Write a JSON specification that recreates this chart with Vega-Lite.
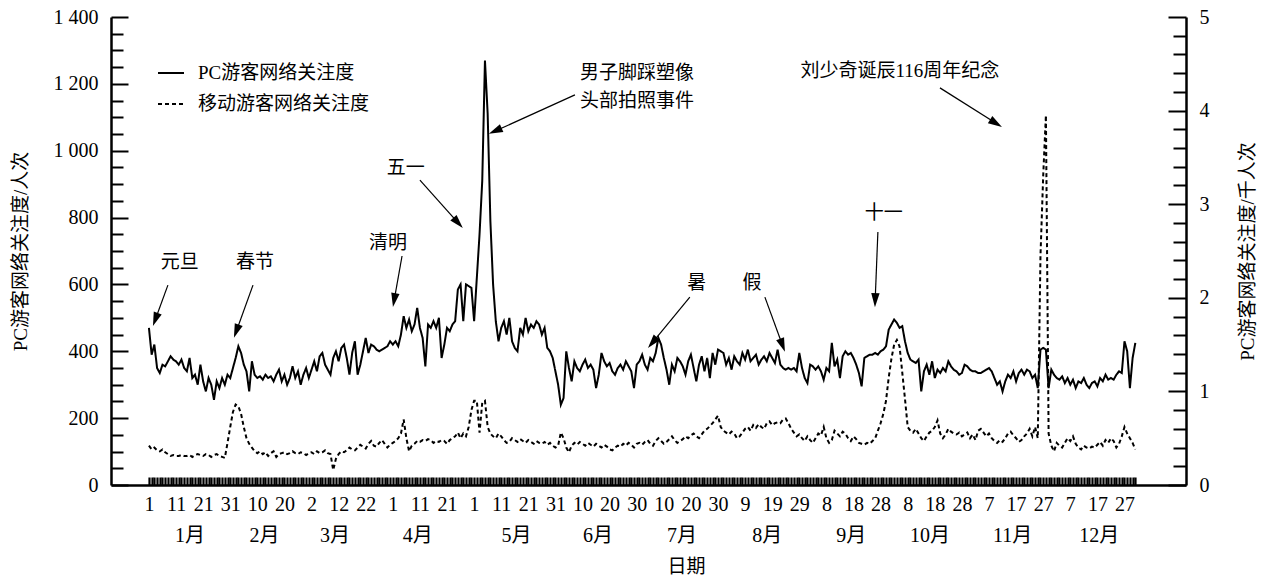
{
  "$schema": "https://vega.github.io/schema/vega-lite/v6.json",
  "width": 1075,
  "height": 468,
  "autosize": {"type": "none"},
  "padding": {"left": 111, "top": 17, "right": 79, "bottom": 91},
  "background": "white",
  "config": {
    "font": "Liberation Serif, Noto Sans CJK SC",
    "view": {"stroke": null},
    "axis": {
      "labelFont": "Liberation Serif, Noto Sans CJK SC",
      "titleFont": "Liberation Serif, Noto Sans CJK SC",
      "labelFontSize": 20,
      "titleFontSize": 19,
      "titleFontWeight": "normal",
      "labelColor": "black",
      "titleColor": "black",
      "domainColor": "black",
      "tickColor": "black",
      "grid": false,
      "labelOverlap": false,
      "labelFlush": false,
      "labelBound": false
    },
    "legend": {
      "labelFont": "Liberation Serif, Noto Sans CJK SC",
      "labelFontSize": 19,
      "labelColor": "black",
      "labelLimit": 0
    }
  },
  "datasets": {
    "daily": [
      {"d":1,"pc":470,"m":0.42},{"d":2,"pc":390,"m":0.38},{"d":3,"pc":420,"m":0.40},{"d":4,"pc":350,"m":0.37},{"d":5,"pc":335,"m":0.36},{"d":6,"pc":360,"m":0.38},{"d":7,"pc":355,"m":0.35},{"d":8,"pc":370,"m":0.33},{"d":9,"pc":385,"m":0.31},{"d":10,"pc":375,"m":0.32},
      {"d":11,"pc":370,"m":0.31},{"d":12,"pc":360,"m":0.31},{"d":13,"pc":375,"m":0.32},{"d":14,"pc":350,"m":0.31},{"d":15,"pc":340,"m":0.31},{"d":16,"pc":380,"m":0.32},{"d":17,"pc":320,"m":0.30},{"d":18,"pc":330,"m":0.32},{"d":19,"pc":300,"m":0.33},{"d":20,"pc":360,"m":0.32},
      {"d":21,"pc":310,"m":0.31},{"d":22,"pc":280,"m":0.33},{"d":23,"pc":320,"m":0.32},{"d":24,"pc":300,"m":0.30},{"d":25,"pc":255,"m":0.32},{"d":26,"pc":310,"m":0.33},{"d":27,"pc":290,"m":0.31},{"d":28,"pc":320,"m":0.30},{"d":29,"pc":300,"m":0.29},{"d":30,"pc":330,"m":0.45},
      {"d":31,"pc":320,"m":0.62},{"d":32,"pc":350,"m":0.78},{"d":33,"pc":380,"m":0.86},{"d":34,"pc":415,"m":0.84},{"d":35,"pc":395,"m":0.76},{"d":36,"pc":360,"m":0.62},{"d":37,"pc":340,"m":0.50},{"d":38,"pc":280,"m":0.44},{"d":39,"pc":370,"m":0.40},{"d":40,"pc":330,"m":0.36},
      {"d":41,"pc":320,"m":0.34},{"d":42,"pc":325,"m":0.36},{"d":43,"pc":315,"m":0.33},{"d":44,"pc":330,"m":0.35},{"d":45,"pc":320,"m":0.31},{"d":46,"pc":325,"m":0.34},{"d":47,"pc":310,"m":0.36},{"d":48,"pc":330,"m":0.30},{"d":49,"pc":345,"m":0.33},{"d":50,"pc":310,"m":0.34},
      {"d":51,"pc":330,"m":0.35},{"d":52,"pc":300,"m":0.33},{"d":53,"pc":320,"m":0.34},{"d":54,"pc":355,"m":0.36},{"d":55,"pc":320,"m":0.34},{"d":56,"pc":340,"m":0.33},{"d":57,"pc":300,"m":0.35},{"d":58,"pc":330,"m":0.34},{"d":59,"pc":350,"m":0.32},{"d":60,"pc":320,"m":0.34},
      {"d":61,"pc":345,"m":0.35},{"d":62,"pc":370,"m":0.33},{"d":63,"pc":340,"m":0.36},{"d":64,"pc":385,"m":0.34},{"d":65,"pc":395,"m":0.35},{"d":66,"pc":360,"m":0.37},{"d":67,"pc":345,"m":0.34},{"d":68,"pc":330,"m":0.33},{"d":69,"pc":380,"m":0.16},{"d":70,"pc":400,"m":0.28},
      {"d":71,"pc":370,"m":0.33},{"d":72,"pc":410,"m":0.36},{"d":73,"pc":420,"m":0.35},{"d":74,"pc":380,"m":0.37},{"d":75,"pc":330,"m":0.40},{"d":76,"pc":395,"m":0.38},{"d":77,"pc":430,"m":0.37},{"d":78,"pc":330,"m":0.40},{"d":79,"pc":360,"m":0.43},{"d":80,"pc":400,"m":0.41},
      {"d":81,"pc":440,"m":0.39},{"d":82,"pc":395,"m":0.44},{"d":83,"pc":420,"m":0.47},{"d":84,"pc":415,"m":0.42},{"d":85,"pc":405,"m":0.41},{"d":86,"pc":400,"m":0.45},{"d":87,"pc":405,"m":0.48},{"d":88,"pc":410,"m":0.44},{"d":89,"pc":415,"m":0.40},{"d":90,"pc":430,"m":0.43},
      {"d":91,"pc":420,"m":0.45},{"d":92,"pc":430,"m":0.47},{"d":93,"pc":415,"m":0.50},{"d":94,"pc":450,"m":0.55},{"d":95,"pc":505,"m":0.70},{"d":96,"pc":470,"m":0.50},{"d":97,"pc":495,"m":0.36},{"d":98,"pc":460,"m":0.42},{"d":99,"pc":480,"m":0.44},{"d":100,"pc":530,"m":0.47},
      {"d":101,"pc":470,"m":0.46},{"d":102,"pc":440,"m":0.48},{"d":103,"pc":355,"m":0.47},{"d":104,"pc":480,"m":0.49},{"d":105,"pc":470,"m":0.48},{"d":106,"pc":490,"m":0.45},{"d":107,"pc":470,"m":0.47},{"d":108,"pc":500,"m":0.46},{"d":109,"pc":380,"m":0.48},{"d":110,"pc":420,"m":0.47},
      {"d":111,"pc":470,"m":0.44},{"d":112,"pc":460,"m":0.48},{"d":113,"pc":480,"m":0.50},{"d":114,"pc":490,"m":0.52},{"d":115,"pc":585,"m":0.56},{"d":116,"pc":600,"m":0.50},{"d":117,"pc":490,"m":0.55},{"d":118,"pc":600,"m":0.52},{"d":119,"pc":595,"m":0.62},{"d":120,"pc":590,"m":0.80},
      {"d":121,"pc":490,"m":0.90},{"d":122,"pc":620,"m":0.90},{"d":123,"pc":750,"m":0.56},{"d":124,"pc":910,"m":0.88},{"d":125,"pc":1270,"m":0.90},{"d":126,"pc":1110,"m":0.62},{"d":127,"pc":790,"m":0.55},{"d":128,"pc":600,"m":0.52},{"d":129,"pc":490,"m":0.50},{"d":130,"pc":430,"m":0.55},
      {"d":131,"pc":470,"m":0.52},{"d":132,"pc":490,"m":0.48},{"d":133,"pc":450,"m":0.45},{"d":134,"pc":500,"m":0.46},{"d":135,"pc":430,"m":0.50},{"d":136,"pc":410,"m":0.48},{"d":137,"pc":400,"m":0.46},{"d":138,"pc":470,"m":0.49},{"d":139,"pc":450,"m":0.47},{"d":140,"pc":500,"m":0.45},
      {"d":141,"pc":460,"m":0.48},{"d":142,"pc":480,"m":0.46},{"d":143,"pc":470,"m":0.44},{"d":144,"pc":490,"m":0.47},{"d":145,"pc":480,"m":0.45},{"d":146,"pc":450,"m":0.44},{"d":147,"pc":470,"m":0.46},{"d":148,"pc":410,"m":0.43},{"d":149,"pc":400,"m":0.45},{"d":150,"pc":380,"m":0.42},
      {"d":151,"pc":340,"m":0.40},{"d":152,"pc":300,"m":0.42},{"d":153,"pc":240,"m":0.56},{"d":154,"pc":260,"m":0.50},{"d":155,"pc":400,"m":0.40},{"d":156,"pc":350,"m":0.35},{"d":157,"pc":310,"m":0.42},{"d":158,"pc":370,"m":0.45},{"d":159,"pc":350,"m":0.43},{"d":160,"pc":340,"m":0.46},
      {"d":161,"pc":360,"m":0.44},{"d":162,"pc":375,"m":0.42},{"d":163,"pc":350,"m":0.45},{"d":164,"pc":360,"m":0.43},{"d":165,"pc":345,"m":0.41},{"d":166,"pc":290,"m":0.44},{"d":167,"pc":330,"m":0.42},{"d":168,"pc":395,"m":0.40},{"d":169,"pc":370,"m":0.43},{"d":170,"pc":355,"m":0.41},
      {"d":171,"pc":365,"m":0.38},{"d":172,"pc":340,"m":0.37},{"d":173,"pc":330,"m":0.40},{"d":174,"pc":350,"m":0.42},{"d":175,"pc":360,"m":0.41},{"d":176,"pc":345,"m":0.44},{"d":177,"pc":370,"m":0.42},{"d":178,"pc":355,"m":0.45},{"d":179,"pc":340,"m":0.43},{"d":180,"pc":290,"m":0.40},
      {"d":181,"pc":360,"m":0.44},{"d":182,"pc":370,"m":0.45},{"d":183,"pc":390,"m":0.43},{"d":184,"pc":360,"m":0.46},{"d":185,"pc":345,"m":0.48},{"d":186,"pc":380,"m":0.44},{"d":187,"pc":370,"m":0.42},{"d":188,"pc":395,"m":0.47},{"d":189,"pc":440,"m":0.50},{"d":190,"pc":420,"m":0.47},
      {"d":191,"pc":380,"m":0.44},{"d":192,"pc":345,"m":0.46},{"d":193,"pc":300,"m":0.49},{"d":194,"pc":360,"m":0.52},{"d":195,"pc":340,"m":0.48},{"d":196,"pc":380,"m":0.45},{"d":197,"pc":370,"m":0.47},{"d":198,"pc":355,"m":0.49},{"d":199,"pc":330,"m":0.52},{"d":200,"pc":370,"m":0.50},
      {"d":201,"pc":390,"m":0.53},{"d":202,"pc":350,"m":0.55},{"d":203,"pc":310,"m":0.52},{"d":204,"pc":360,"m":0.50},{"d":205,"pc":385,"m":0.54},{"d":206,"pc":340,"m":0.58},{"d":207,"pc":380,"m":0.60},{"d":208,"pc":320,"m":0.63},{"d":209,"pc":395,"m":0.66},{"d":210,"pc":360,"m":0.70},
      {"d":211,"pc":405,"m":0.74},{"d":212,"pc":400,"m":0.62},{"d":213,"pc":395,"m":0.58},{"d":214,"pc":360,"m":0.56},{"d":215,"pc":380,"m":0.54},{"d":216,"pc":345,"m":0.57},{"d":217,"pc":385,"m":0.55},{"d":218,"pc":370,"m":0.50},{"d":219,"pc":360,"m":0.52},{"d":220,"pc":395,"m":0.56},
      {"d":221,"pc":375,"m":0.60},{"d":222,"pc":405,"m":0.62},{"d":223,"pc":370,"m":0.58},{"d":224,"pc":380,"m":0.64},{"d":225,"pc":390,"m":0.61},{"d":226,"pc":360,"m":0.65},{"d":227,"pc":375,"m":0.62},{"d":228,"pc":385,"m":0.60},{"d":229,"pc":370,"m":0.66},{"d":230,"pc":395,"m":0.68},
      {"d":231,"pc":380,"m":0.64},{"d":232,"pc":365,"m":0.66},{"d":233,"pc":405,"m":0.67},{"d":234,"pc":360,"m":0.66},{"d":235,"pc":350,"m":0.70},{"d":236,"pc":345,"m":0.71},{"d":237,"pc":350,"m":0.66},{"d":238,"pc":345,"m":0.60},{"d":239,"pc":350,"m":0.56},{"d":240,"pc":340,"m":0.52},
      {"d":241,"pc":395,"m":0.54},{"d":242,"pc":350,"m":0.50},{"d":243,"pc":320,"m":0.47},{"d":244,"pc":305,"m":0.52},{"d":245,"pc":360,"m":0.48},{"d":246,"pc":355,"m":0.45},{"d":247,"pc":345,"m":0.50},{"d":248,"pc":355,"m":0.55},{"d":249,"pc":340,"m":0.53},{"d":250,"pc":315,"m":0.62},
      {"d":251,"pc":350,"m":0.50},{"d":252,"pc":340,"m":0.45},{"d":253,"pc":425,"m":0.48},{"d":254,"pc":355,"m":0.58},{"d":255,"pc":375,"m":0.55},{"d":256,"pc":320,"m":0.52},{"d":257,"pc":385,"m":0.57},{"d":258,"pc":400,"m":0.55},{"d":259,"pc":390,"m":0.50},{"d":260,"pc":395,"m":0.47},
      {"d":261,"pc":380,"m":0.52},{"d":262,"pc":360,"m":0.49},{"d":263,"pc":335,"m":0.45},{"d":264,"pc":295,"m":0.44},{"d":265,"pc":380,"m":0.43},{"d":266,"pc":385,"m":0.45},{"d":267,"pc":390,"m":0.44},{"d":268,"pc":390,"m":0.47},{"d":269,"pc":395,"m":0.50},{"d":270,"pc":390,"m":0.58},
      {"d":271,"pc":400,"m":0.66},{"d":272,"pc":405,"m":0.76},{"d":273,"pc":415,"m":0.90},{"d":274,"pc":465,"m":1.15},{"d":275,"pc":480,"m":1.35},{"d":276,"pc":495,"m":1.50},{"d":277,"pc":485,"m":1.55},{"d":278,"pc":470,"m":1.48},{"d":279,"pc":475,"m":1.20},{"d":280,"pc":430,"m":0.92},
      {"d":281,"pc":395,"m":0.62},{"d":282,"pc":375,"m":0.58},{"d":283,"pc":370,"m":0.56},{"d":284,"pc":365,"m":0.60},{"d":285,"pc":375,"m":0.55},{"d":286,"pc":280,"m":0.50},{"d":287,"pc":340,"m":0.47},{"d":288,"pc":360,"m":0.52},{"d":289,"pc":330,"m":0.56},{"d":290,"pc":370,"m":0.58},
      {"d":291,"pc":320,"m":0.62},{"d":292,"pc":345,"m":0.69},{"d":293,"pc":335,"m":0.55},{"d":294,"pc":350,"m":0.50},{"d":295,"pc":340,"m":0.54},{"d":296,"pc":370,"m":0.60},{"d":297,"pc":355,"m":0.57},{"d":298,"pc":345,"m":0.55},{"d":299,"pc":340,"m":0.54},{"d":300,"pc":330,"m":0.56},
      {"d":301,"pc":335,"m":0.52},{"d":302,"pc":360,"m":0.54},{"d":303,"pc":355,"m":0.56},{"d":304,"pc":345,"m":0.50},{"d":305,"pc":340,"m":0.54},{"d":306,"pc":340,"m":0.48},{"d":307,"pc":335,"m":0.58},{"d":308,"pc":335,"m":0.60},{"d":309,"pc":340,"m":0.56},{"d":310,"pc":345,"m":0.52},
      {"d":311,"pc":350,"m":0.55},{"d":312,"pc":340,"m":0.50},{"d":313,"pc":320,"m":0.47},{"d":314,"pc":300,"m":0.45},{"d":315,"pc":310,"m":0.48},{"d":316,"pc":280,"m":0.46},{"d":317,"pc":310,"m":0.50},{"d":318,"pc":330,"m":0.55},{"d":319,"pc":320,"m":0.57},{"d":320,"pc":340,"m":0.53},
      {"d":321,"pc":310,"m":0.50},{"d":322,"pc":335,"m":0.46},{"d":323,"pc":345,"m":0.48},{"d":324,"pc":330,"m":0.52},{"d":325,"pc":345,"m":0.55},{"d":326,"pc":340,"m":0.60},{"d":327,"pc":320,"m":0.52},{"d":328,"pc":330,"m":0.62},{"d":329,"pc":290,"m":0.50},{"d":330,"pc":405,"m":2.45},
      {"d":331,"pc":410,"m":3.30},{"d":332,"pc":405,"m":3.95},{"d":333,"pc":290,"m":0.55},{"d":334,"pc":345,"m":0.42},{"d":335,"pc":330,"m":0.36},{"d":336,"pc":320,"m":0.45},{"d":337,"pc":315,"m":0.42},{"d":338,"pc":325,"m":0.40},{"d":339,"pc":305,"m":0.45},{"d":340,"pc":320,"m":0.50},
      {"d":341,"pc":300,"m":0.47},{"d":342,"pc":315,"m":0.52},{"d":343,"pc":290,"m":0.44},{"d":344,"pc":310,"m":0.40},{"d":345,"pc":305,"m":0.38},{"d":346,"pc":320,"m":0.42},{"d":347,"pc":300,"m":0.40},{"d":348,"pc":290,"m":0.39},{"d":349,"pc":305,"m":0.41},{"d":350,"pc":310,"m":0.40},
      {"d":351,"pc":295,"m":0.43},{"d":352,"pc":320,"m":0.46},{"d":353,"pc":310,"m":0.42},{"d":354,"pc":330,"m":0.48},{"d":355,"pc":315,"m":0.45},{"d":356,"pc":320,"m":0.50},{"d":357,"pc":315,"m":0.47},{"d":358,"pc":330,"m":0.40},{"d":359,"pc":340,"m":0.44},{"d":360,"pc":335,"m":0.52},
      {"d":361,"pc":430,"m":0.62},{"d":362,"pc":400,"m":0.55},{"d":363,"pc":290,"m":0.50},{"d":364,"pc":380,"m":0.45},{"d":365,"pc":425,"m":0.38}
    ],
    "notes": [
      {"d":12.4,"v":667,"t":"元旦"},
      {"d":40.1,"v":667,"t":"春节"},
      {"d":89.2,"v":724,"t":"清明"},
      {"d":95.8,"v":948,"t":"五一"},
      {"d":181.1,"v":1232,"t":"男子脚踩塑像"},
      {"d":181.1,"v":1149,"t":"头部拍照事件"},
      {"d":278.1,"v":1238,"t":"刘少奇诞辰116周年纪念"},
      {"d":272.2,"v":814,"t":"十一"},
      {"d":203.2,"v":604,"t":"暑"},
      {"d":223.5,"v":604,"t":"假"}
    ],
    "arrows": [
      {"d":8.0,"v":598,"d2":3.36,"v2":495,"angle":200},
      {"d":39.4,"v":598,"d2":33.25,"v2":460,"angle":200},
      {"d":94.4,"v":685,"d2":91.5,"v2":553,"angle":190},
      {"d":101.0,"v":912,"d2":115.1,"v2":784,"angle":138},
      {"d":158.2,"v":1167,"d2":128.8,"v2":1059,"angle":246},
      {"d":292.9,"v":1188,"d2":313.6,"v2":1082,"angle":122},
      {"d":270.0,"v":757,"d2":269.0,"v2":553,"angle":182},
      {"d":200.6,"v":562,"d2":186.8,"v2":426,"angle":220},
      {"d":228.3,"v":562,"d2":234.8,"v2":418,"angle":160}
    ]
  },
  "layer": [
    {
      "data": {"name": "daily"},
      "mark": {"type": "line", "color": "black", "strokeWidth": 2, "strokeCap": "butt"},
      "encoding": {
        "x": {
          "field": "d", "type": "quantitative",
          "scale": {"domain": [-13, 383.7], "nice": false, "zero": false},
          "axis": {
            "title": null,
            "values": [1,2,3,4,5,6,7,8,9,10,11,12,13,14,15,16,17,18,19,20,21,22,23,24,25,26,27,28,29,30,31,32,33,34,35,36,37,38,39,40,41,42,43,44,45,46,47,48,49,50,51,52,53,54,55,56,57,58,59,60,61,62,63,64,65,66,67,68,69,70,71,72,73,74,75,76,77,78,79,80,81,82,83,84,85,86,87,88,89,90,91,92,93,94,95,96,97,98,99,100,101,102,103,104,105,106,107,108,109,110,111,112,113,114,115,116,117,118,119,120,121,122,123,124,125,126,127,128,129,130,131,132,133,134,135,136,137,138,139,140,141,142,143,144,145,146,147,148,149,150,151,152,153,154,155,156,157,158,159,160,161,162,163,164,165,166,167,168,169,170,171,172,173,174,175,176,177,178,179,180,181,182,183,184,185,186,187,188,189,190,191,192,193,194,195,196,197,198,199,200,201,202,203,204,205,206,207,208,209,210,211,212,213,214,215,216,217,218,219,220,221,222,223,224,225,226,227,228,229,230,231,232,233,234,235,236,237,238,239,240,241,242,243,244,245,246,247,248,249,250,251,252,253,254,255,256,257,258,259,260,261,262,263,264,265,266,267,268,269,270,271,272,273,274,275,276,277,278,279,280,281,282,283,284,285,286,287,288,289,290,291,292,293,294,295,296,297,298,299,300,301,302,303,304,305,306,307,308,309,310,311,312,313,314,315,316,317,318,319,320,321,322,323,324,325,326,327,328,329,330,331,332,333,334,335,336,337,338,339,340,341,342,343,344,345,346,347,348,349,350,351,352,353,354,355,356,357,358,359,360,361,362,363,364,365],
            "labelExpr": "(datum.value - 1) % 10 === 0 ? '' + date(datetime(2014, 0, datum.value)) : ''",
            "tickSize": -8,
            "tickWidth": 2.2,
            "domainWidth": 2.5,
            "labelPadding": 17
          }
        },
        "y": {
          "field": "pc", "type": "quantitative",
          "scale": {"domain": [0, 1400], "nice": false},
          "axis": {
            "values": [0,50,100,150,200,250,300,350,400,450,500,550,600,650,700,750,800,850,900,950,1000,1050,1100,1150,1200,1250,1300,1350,1400],
            "labelExpr": "datum.value % 200 === 0 ? replace(format(datum.value, ','), ',', ' ') : ''",
            "tickSize": {"condition": {"test": "datum.value % 200 === 0", "value": -17}, "value": -12},
            "tickWidth": 2,
            "domainWidth": 2.5,
            "labelPadding": 30,
            "title": "PC游客网络关注度/人次",
            "titleX": -91,
            "titleY": 234,
            "titleAngle": -90,
            "titleAlign": "center",
            "titleBaseline": "middle"
          }
        },
        "strokeDash": {
          "datum": "PC游客网络关注度",
          "type": "nominal",
          "scale": {"domain": ["PC游客网络关注度", "移动游客网络关注度"], "range": [[1, 0], [4, 3]]},
          "legend": {
            "orient": "none",
            "legendX": 46,
            "legendY": 42,
            "title": null,
            "padding": 0,
            "symbolType": "stroke",
            "symbolSize": 676,
            "symbolStrokeWidth": 2,
            "symbolStrokeColor": "black",
            "labelOffset": 13,
            "labelLimit": 0,
            "rowPadding": 7
          }
        }
      }
    },
    {
      "data": {"name": "daily"},
      "mark": {"type": "line", "color": "black", "strokeWidth": 2, "strokeCap": "butt"},
      "encoding": {
        "x": {
          "field": "d", "type": "quantitative",
          "scale": {"domain": [-13, 383.7], "nice": false, "zero": false},
          "axis": {
            "orient": "bottom",
            "values": [16, 43.5, 69.5, 100, 136.5, 166.5, 197.5, 229, 260, 289, 319.5, 351.5],
            "labelExpr": "(month(datetime(2014, 0, floor(datum.value))) + 1) + '月'",
            "ticks": false,
            "domain": false,
            "labelPadding": 40,
            "title": "日期",
            "titleX": 575,
            "titleY": 81,
            "titleAlign": "center",
            "titleBaseline": "middle"
          }
        },
        "y": {
          "field": "m", "type": "quantitative",
          "scale": {"domain": [0, 5], "nice": false},
          "axis": {
            "orient": "right",
            "values": [0,0.2,0.4,0.6,0.8,1,1.2,1.4,1.6,1.8,2,2.2,2.4,2.6,2.8,3,3.2,3.4,3.6,3.8,4,4.2,4.4,4.6,4.8,5],
            "labelExpr": "datum.value % 1 === 0 ? format(datum.value, 'd') : ''",
            "tickSize": {"condition": {"test": "datum.value % 1 === 0", "value": -18}, "value": -13},
            "tickWidth": 2,
            "domainWidth": 2.5,
            "labelPadding": 31,
            "title": "PC游客网络关注度/千人次",
            "titleX": 61,
            "titleY": 234,
            "titleAngle": -90,
            "titleAlign": "center",
            "titleBaseline": "middle"
          }
        },
        "strokeDash": {"datum": "移动游客网络关注度", "type": "nominal"}
      }
    },
    {
      "data": {"name": "arrows"},
      "mark": {"type": "rule", "color": "black", "strokeWidth": 1.2},
      "encoding": {
        "x": {"field": "d", "type": "quantitative", "scale": {"domain": [-13, 383.7], "nice": false, "zero": false}, "axis": null},
        "y": {"field": "v", "type": "quantitative", "scale": {"domain": [0, 1400], "nice": false}, "axis": null},
        "x2": {"field": "d2"},
        "y2": {"field": "v2"}
      }
    },
    {
      "data": {"name": "arrows"},
      "mark": {"type": "point", "shape": "M0,-1L0.6,1L-0.6,1Z", "filled": true, "color": "black", "opacity": 1, "size": 196},
      "encoding": {
        "x": {"field": "d2", "type": "quantitative", "scale": {"domain": [-13, 383.7], "nice": false, "zero": false}, "axis": null},
        "y": {"field": "v2", "type": "quantitative", "scale": {"domain": [0, 1400], "nice": false}, "axis": null},
        "angle": {"field": "angle", "type": "quantitative", "scale": null}
      }
    },
    {
      "data": {"name": "notes"},
      "mark": {"type": "text", "fontSize": 19, "color": "black", "align": "center", "baseline": "middle", "font": "Liberation Serif, Noto Sans CJK SC"},
      "encoding": {
        "x": {"field": "d", "type": "quantitative", "scale": {"domain": [-13, 383.7], "nice": false, "zero": false}, "axis": null},
        "y": {"field": "v", "type": "quantitative", "scale": {"domain": [0, 1400], "nice": false}, "axis": null},
        "text": {"field": "t"}
      }
    }
  ],
  "resolve": {"scale": {"y": "independent"}, "axis": {"x": "independent"}}
}
